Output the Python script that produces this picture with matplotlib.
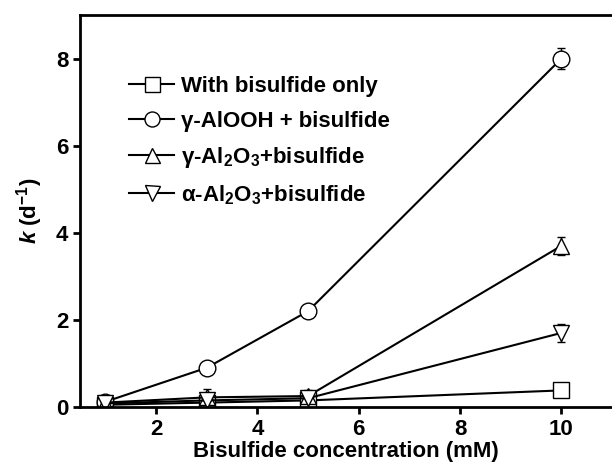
import matplotlib
matplotlib.use("Agg")
import matplotlib.pyplot as plt

plt.rcParams['font.family'] = ['Liberation Sans', 'DejaVu Sans']
plt.rcParams['font.weight'] = 'bold'
plt.rcParams['mathtext.fontset'] = 'custom'
plt.rcParams['mathtext.rm'] = 'Liberation Sans:bold'
plt.rcParams['mathtext.it'] = 'Liberation Sans:bold:italic'
plt.rcParams['mathtext.bf'] = 'Liberation Sans:bold'
plt.rcParams['mathtext.default'] = 'rm'

conc = [1, 3, 5, 10]
k_only = [0.05, 0.10, 0.15, 0.38]
k_only_err = [0.02, 0.02, 0.02, 0.05]
k_alooh = [0.12, 0.90, 2.20, 8.00]
k_alooh_err = [0.03, 0.08, 0.10, 0.25]
k_gamma = [0.10, 0.22, 0.25, 3.70]
k_gamma_err = [0.02, 0.20, 0.15, 0.20]
k_alpha = [0.08, 0.15, 0.20, 1.70]
k_alpha_err = [0.02, 0.05, 0.05, 0.20]

labels = ['With bisulfide only',
          'γ-AlOOH + bisulfide',
          'γ-Al$_2$O$_3$+bisulfide',
          'α-Al$_2$O$_3$+bisulfide']

fig = plt.figure(figsize=(6.12, 4.71), dpi=100)
ax = fig.add_axes([0.131, 0.136, 0.869, 0.832])

series = [(k_only, k_only_err, 's'), (k_alooh, k_alooh_err, 'o'),
          (k_gamma, k_gamma_err, '^'), (k_alpha, k_alpha_err, 'v')]
for (y, e, m), lab in zip(series, labels):
    ax.errorbar(conc, y, yerr=e, color='black', marker=m, ms=12,
                mfc='white', mec='black', mew=1.0, lw=1.5,
                elinewidth=1.0, capsize=3, label=lab)

ax.set_xlim(0.5, 11)
ax.set_ylim(0, 9)
ax.set_xticks([2, 4, 6, 8, 10])
ax.set_yticks([0, 2, 4, 6, 8])
ax.tick_params(direction='out', length=5, width=2, labelsize=16)
for s in ['left', 'bottom', 'top']:
    ax.spines[s].set_linewidth(2)
ax.spines['right'].set_visible(False)

ax.set_xlabel('Bisulfide concentration (mM)', fontsize=16, fontweight='bold',
              labelpad=1)
ax.set_ylabel(r'$\mathit{k}$ (d$^{-1}$)', fontsize=16, fontweight='bold',
              labelpad=8)

handles, labs = ax.get_legend_handles_labels()
handles = [h[0] for h in handles]
ax.legend(handles, labs, loc='upper left', bbox_to_anchor=(0.055, 0.895),
          frameon=False, fontsize=16, handlelength=2.0, handletextpad=0.3,
          labelspacing=0.6, markerscale=0.9)

fig.savefig('out.png', dpi=100)
